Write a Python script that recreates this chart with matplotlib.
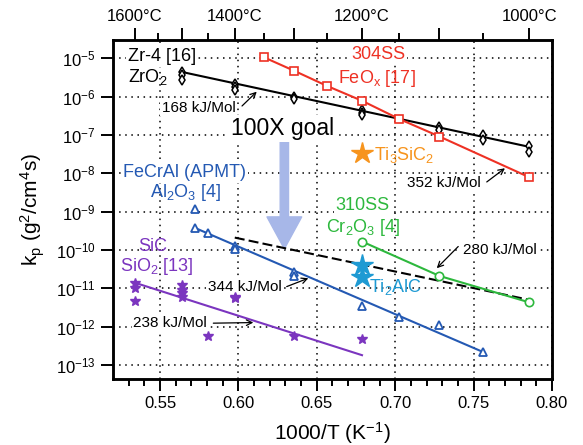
#!/usr/bin/env python3
# -*- coding: utf-8 -*-
"""
Parabolic oxidation rate constants vs 1000/T (Arrhenius plot)
"""
import numpy as np
import matplotlib
matplotlib.use('Agg')
import matplotlib.pyplot as plt
from matplotlib.ticker import FixedLocator, NullLocator, LogFormatterMathtext

plt.rcParams['font.family'] = ['Liberation Sans', 'DejaVu Sans']
plt.rcParams['mathtext.fontset'] = 'custom'
plt.rcParams['mathtext.rm'] = 'Liberation Sans'
plt.rcParams['mathtext.it'] = 'Liberation Sans:italic'
plt.rcParams['mathtext.default'] = 'regular'

# ---- data (temperature in degC, kp in g^2/cm^4/s) ----
zr_T = [1500, 1500, 1500, 1400, 1400, 1400, 1300, 1300,
        1200, 1200, 1200, 1100, 1100, 1050, 1050, 1000, 1000]
zr_kp = [4.5e-6, 3.7e-6, 2.7e-6, 2.2e-6, 1.75e-6, 1.5e-6, 1.0e-6, 8.7e-7,
         4.5e-7, 3.7e-7, 3.3e-7, 1.65e-7, 1.35e-7, 1.0e-7, 7.4e-8, 5.1e-8, 3.7e-8]
zr_fit_T = [1500, 1000]
zr_fit_kp = [4.4e-6, 4.9e-8]

ss304_T = [1350, 1300, 1250, 1200, 1150, 1100, 1000]
ss304_kp = [1.07e-5, 4.7e-6, 1.9e-6, 7.8e-7, 2.6e-7, 9.1e-8, 7.9e-9]

fecral_T = [1475, 1475, 1450, 1400, 1400, 1300, 1300, 1200, 1150, 1100, 1050]
fecral_kp = [1.15e-9, 3.8e-10, 2.8e-10, 1.3e-10, 1.07e-10, 2.6e-11, 2.1e-11,
             3.5e-12, 1.8e-12, 1.1e-12, 2.2e-13]
fecral_fit_T = [1475, 1050]
fecral_fit_kp = [3.8e-10, 2.2e-13]

ss310_T = [1200, 1100, 1000]
ss310_kp = [1.66e-10, 2.1e-11, 4.3e-12]

dash_T = [1400, 1000]
dash_kp = [2.1e-10, 5.0e-12]

sic_T = [1600, 1600, 1600, 1500, 1500, 1500, 1500, 1400, 1400, 1450, 1300, 1200]
sic_kp = [1.4e-11, 1.0e-11, 4.8e-12, 1.23e-11, 9.0e-12, 7.4e-12, 5.9e-12,
          6.0e-12, 5.5e-12, 5.8e-13, 5.8e-13, 4.8e-13]
sic_fit_T = [1600, 1200]
sic_fit_kp = [1.4e-11, 1.8e-13]

ti3sic2_T = [1200]
ti3sic2_kp = [3.3e-8]
ti2alc_T = [1200, 1200]
ti2alc_kp = [4.1e-11, 2.0e-11]

x_ticks = [0.55, 0.60, 0.65, 0.70, 0.75, 0.80]
x_ticklabels = ['0.55', '0.60', '0.65', '0.70', '0.75', '0.80']
y_ticks = [1e-13, 1e-12, 1e-11, 1e-10, 1e-9, 1e-8, 1e-7, 1e-6, 1e-5]
top_major_T = [1600, 1500, 1400, 1300, 1200, 1100, 1000]
top_minor_T = [1550, 1450, 1350, 1250, 1150, 1050]
top_labels = ['1600°C', '', '1400°C', '', '1200°C', '', '1000°C']

RED = '#EE3124'
ORANGE = '#F7941D'
BLUE = '#2459B3'
GREEN = '#2DB83D'
CYAN = '#1E9AD3'
PURPLE = '#7B35BF'
GOAL = '#A7B7E8'


def inv(T):
    """degC -> 1000/T (1/K)"""
    return 1000.0 / (np.asarray(T, dtype=float) + 273.15)


fig = plt.figure(figsize=(5.83, 4.45), dpi=100)
ax = fig.add_axes([0.1938, 0.1483, 0.753, 0.7618])
ax.set_yscale('log')
ax.set_xlim(0.52, 0.80)
ax.set_ylim(4.3e-14, 3.0e-5)

# grid
ax.grid(True, which='major', color='black', linestyle=(0, (1, 3)), linewidth=1.1, zorder=0)
ax.set_axisbelow(True)

lw = 1.5
# Zr-4
ax.plot(inv(zr_fit_T), zr_fit_kp, color='black', lw=lw, zorder=3)
ax.plot(inv(zr_T), zr_kp, ls='none', marker='d', ms=5.5, mfc='white', mec='black', mew=1.1, zorder=4)
# 304SS
ax.plot(inv(ss304_T), ss304_kp, color=RED, lw=lw, marker='s', ms=6, mfc='white', mec=RED, mew=1.2, zorder=4)
# FeCrAl
ax.plot(inv(fecral_fit_T), fecral_fit_kp, color=BLUE, lw=lw, zorder=3)
ax.plot(inv(fecral_T), fecral_kp, ls='none', marker='^', ms=5.5, mfc='white', mec=BLUE, mew=1.3, zorder=4)
# 310SS
ax.plot(inv(ss310_T), ss310_kp, color=GREEN, lw=lw, marker='o', ms=6, mfc='white', mec=GREEN, mew=1.2, zorder=4)
# goal line
ax.plot(inv(dash_T), dash_kp, color='black', lw=lw, ls=(0, (4.8, 2)), zorder=3)
# SiC
ax.plot(inv(sic_fit_T), sic_fit_kp, color=PURPLE, lw=lw, zorder=3)
ax.plot(inv(sic_T), sic_kp, ls='none', marker='*', ms=7, color=PURPLE, zorder=4)
# MAX phases
ax.plot(inv(ti3sic2_T), ti3sic2_kp, ls='none', marker='*', ms=16, color=ORANGE, mec=ORANGE, zorder=4)
ax.plot(inv(ti2alc_T), ti2alc_kp, ls='none', marker='*', ms=16, color=CYAN, mec=CYAN, zorder=4)

# big "100X goal" arrow
ax.annotate('', xy=(0.6293, 1.07e-10), xytext=(0.6293, 7.4e-8),
            arrowprops=dict(arrowstyle='simple,head_length=2.3,head_width=2.5,tail_width=0.6',
                            color=GOAL, shrinkA=0, shrinkB=0, mutation_scale=10), zorder=2)

# labels
box = dict(boxstyle='square,pad=0.1', fc='white', ec='none')
big = 13
small = 11
ax.text(0.5296, 1.1e-5, 'Zr-4 [16]', fontsize=big, va='center', ha='left', bbox=box, zorder=2)
ax.text(0.5296, 3.25e-6, 'ZrO$_2$', fontsize=big, va='center', ha='left', zorder=2)
ax.text(0.5953, 1.46e-7, '100X goal', fontsize=16.5, va='center', ha='left', bbox=box, zorder=2)
ax.text(0.6892, 1.22e-5, '304SS', fontsize=big, color=RED, va='center', ha='center', bbox=box, zorder=2)
ax.text(0.6886, 3.06e-6, 'FeO$_x$ [17]', fontsize=big, color=RED, va='center', ha='center', zorder=2)
ax.text(0.6865, 3.0e-8, 'Ti$_3$SiC$_2$', fontsize=big, color=ORANGE, va='center', ha='left', zorder=2)
ax.text(0.5266, 1.05e-8, 'FeCrAl (APMT)', fontsize=big, color=BLUE, va='center', ha='left', bbox=box, zorder=2)
ax.text(0.5436, 3.07e-9, 'Al$_2$O$_3$ [4]', fontsize=big, color=BLUE, va='center', ha='left', zorder=2)
ax.text(0.6791, 1.41e-9, '310SS', fontsize=big, color=GREEN, va='center', ha='center', bbox=box, zorder=2)
ax.text(0.6797, 3.76e-10, 'Cr$_2$O$_3$ [4]', fontsize=big, color=GREEN, va='center', ha='center', zorder=2)
ax.text(0.6835, 1.1e-11, 'Ti$_2$AlC', fontsize=big, color=CYAN, va='center', ha='left', zorder=2)
ax.text(0.5452, 1.24e-10, 'SiC', fontsize=big, color=PURPLE, va='center', ha='center', zorder=2)
ax.text(0.5479, 3.7e-11, 'SiO$_2$ [13]', fontsize=big, color=PURPLE, va='center', ha='center', zorder=2)

# activation energy labels + arrows
ea_labels = [
    ('168 kJ/Mol', (0.5511, 5.06e-7), (0.6023, 10 ** -6.244), (0.6117, 10 ** -5.871)),
    ('352 kJ/Mol', (0.7075, 5.6e-9), (0.7584, 10 ** -8.226), (0.7700, 10 ** -7.868)),
    ('280 kJ/Mol', (0.7430, 1.0e-10), (0.7402, 10 ** -9.91), (0.7265, 10 ** -10.476)),
    ('344 kJ/Mol', (0.5804, 1.1e-11), (0.6308, 10 ** -10.956), (0.6446, 10 ** -10.737)),
    ('238 kJ/Mol', (0.5329, 1.25e-12), (0.5840, 10 ** -11.91), (0.6095, 10 ** -11.894)),
]
for txt, pos, tail, head in ea_labels:
    ax.text(pos[0], pos[1], txt, fontsize=small, va='center', ha='left', bbox=box, zorder=2)
    ax.annotate('', xy=head, xytext=tail,
                arrowprops=dict(arrowstyle='->', color='black', lw=0.9, shrinkA=0, shrinkB=0), zorder=5)

# axes styling
ax.xaxis.set_major_locator(FixedLocator(x_ticks))
ax.xaxis.set_minor_locator(FixedLocator(np.arange(0.53, 0.80, 0.01)))
ax.set_xticklabels(x_ticklabels)
ax.yaxis.set_major_locator(FixedLocator(y_ticks))
ax.yaxis.set_minor_locator(NullLocator())
ax.yaxis.set_major_formatter(LogFormatterMathtext())
ax.tick_params(which='major', direction='out', length=8.5, width=1.4, labelsize=12, pad=4)
ax.tick_params(which='minor', direction='out', length=5, width=1.4)
ax.tick_params(axis='x', which='both', top=False)
for sp in ax.spines.values():
    sp.set_linewidth(1.8)

ax.set_xlabel('1000/T (K$^{-1}$)', fontsize=15, labelpad=6)
ax.set_ylabel('k$_p$ (g$^2$/cm$^4$s)', fontsize=15, labelpad=6)

# top axis in degC
ax2 = ax.twiny()
ax2.set_xlim(ax.get_xlim())
ax2.xaxis.set_major_locator(FixedLocator(inv(top_major_T)))
ax2.xaxis.set_minor_locator(FixedLocator(inv(top_minor_T)))
ax2.set_xticklabels(top_labels)
ax2.tick_params(which='major', direction='out', length=8.5, width=1.4, labelsize=12, pad=3)
ax2.tick_params(which='minor', direction='out', length=5, width=1.4)
for sp in ax2.spines.values():
    sp.set_linewidth(1.8)

fig.savefig('out.png', dpi=100)
